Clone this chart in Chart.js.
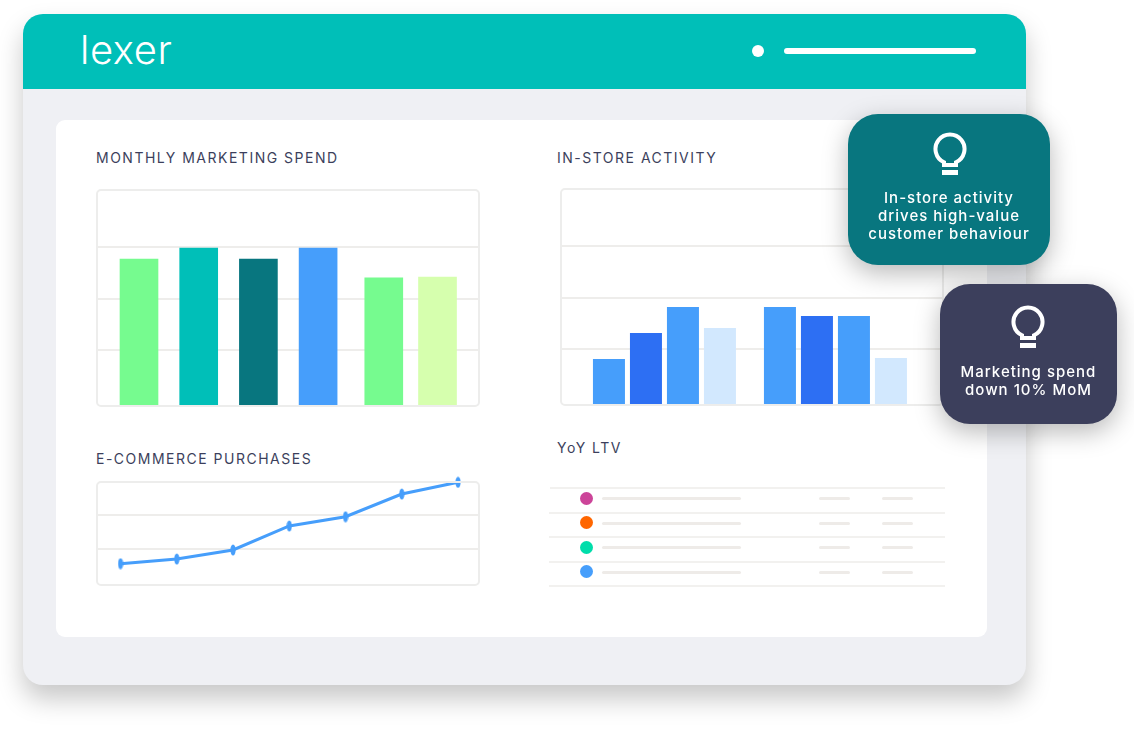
<!DOCTYPE html>
<html>
<head>
<meta charset="utf-8">
<script src="https://cdn.jsdelivr.net/npm/chart.js@4"></script>
<style>
  html, body { margin: 0; padding: 0; background: #fff; }
  body { width: 1134px; height: 730px; position: relative; overflow: hidden; font-family: Roboto, sans-serif; color: #3C3F5C; }
  .abs { position: absolute; }
  #app { left: 23px; top: 14px; width: 1003px; height: 671px; border-radius: 20px; background: #EFF0F4; box-shadow: 0 14px 26px rgba(0,0,0,.22); overflow: hidden; }
  #bar { left: 0; top: 0; width: 1003px; height: 75px; background: #00BFB8; }
  #logo { left: 57px; top: 16px; color: #fff; font: 300 40px/40px Inter, sans-serif; letter-spacing: 0.6px; }
  #panel { left: 56px; top: 120px; width: 931px; height: 517px; background: #fff; border-radius: 9px; }
  .title { font: 400 14px/16px Inter, sans-serif; letter-spacing: 1.5px; white-space: nowrap; }
  .frame { border: 2px solid #EDEDEC; border-radius: 5px; box-sizing: border-box; pointer-events: none; }
  .rule { height: 2px; background: #F2F1EF; }
  .skel { height: 3px; border-radius: 2px; background: #EEEBE8; }
  .dot { width: 13px; height: 13px; border-radius: 50%; }
  .tip { color: #fff; border-radius: 30px; box-shadow: 0 8px 26px rgba(0,0,0,.28); text-align: center; font: 500 15px/18px Inter, sans-serif; letter-spacing: 1px; }
  .tip svg { position: absolute; }
  .tip div { position: absolute; left: 0; right: 0; white-space: nowrap; }
</style>
</head>
<body>
<div id="app" class="abs">
  <div id="bar" class="abs"></div>
  <div id="logo" class="abs">lexer</div>
</div>
<div class="abs" style="left:752px;top:45px;width:12px;height:12px;border-radius:50%;background:#fff"></div>
<div class="abs" style="left:784px;top:48px;width:192px;height:6px;border-radius:3px;background:#fff"></div>
<div id="panel" class="abs"></div>

<div class="abs title" style="left:96px;top:150px">MONTHLY MARKETING SPEND</div>
<canvas id="spendChart" class="abs" style="left:97px;top:190px"></canvas>
<div class="abs frame" style="left:96px;top:189px;width:384px;height:218px"></div>

<div class="abs title" style="left:557px;top:150px">IN-STORE ACTIVITY</div>
<canvas id="storeChart" class="abs" style="left:561px;top:189px"></canvas>
<div class="abs frame" style="left:560px;top:188px;width:384px;height:218px"></div>

<div class="abs title" style="left:96px;top:451px">E-COMMERCE PURCHASES</div>
<canvas id="purchaseChart" class="abs" style="left:97px;top:472px"></canvas>
<div class="abs frame" style="left:96px;top:481px;width:384px;height:105px"></div>

<div class="abs title" style="left:557px;top:440px">YoY LTV</div>
<div id="ltv"></div>

<div class="abs tip" style="left:848px;top:114px;width:202px;height:151px;background:#08767F">
  <svg style="left:85px;top:18px" width="34" height="44" viewBox="0 0 34 44"><path d="M11 33 V30.200 A14.500 14.500 0 1 1 23 30.200 V33 Z" fill="none" stroke="#fff" stroke-width="4"/><rect x="9" y="38" width="16" height="5" fill="#fff"/></svg>
  <div style="top:75px">In-store activity<br>drives high-value<br>customer behaviour</div>
</div>
<div class="abs tip" style="left:940px;top:284px;width:177px;height:140px;background:#3C3F5C">
  <svg style="left:71px;top:21px" width="34" height="44" viewBox="0 0 34 44"><path d="M11 33 V30.200 A14.500 14.500 0 1 1 23 30.200 V33 Z" fill="none" stroke="#fff" stroke-width="4"/><rect x="9" y="38" width="16" height="5" fill="#fff"/></svg>
  <div style="top:79px">Marketing spend<br>down 10% MoM</div>
</div>

<script>
  // bar slots along the monthly axis, the fifth bar sits a bit late in the picture
  const spendSlots = [1, 2, 3, 4, 5.1, 6];
  const spendValues = [68, 73.1, 68, 73.1, 59.3, 59.7];
  const spendColors = ['#76FB8F', '#00BFB8', '#08767F', '#469EFB', '#76FB8F', '#D6FFAE'];
  const spendTicks = [25.9, 49.5, 73.6];

  const storeGroups = [1, 2];
  const storeFirst = [21.3, 45.4];
  const storeSecond = [33.3, 41.2];
  const storeThird = [45.4, 41.2];
  const storeFourth = [35.6, 21.8];
  const storeTicks = [26, 49.5, 73.6];

  const purchaseSlots = [1, 2, 3, 4, 5, 6, 7];
  const purchaseValues = [20.7, 25.2, 34, 57.3, 66.3, 88.3, 99.7];
  const purchaseTicks = [35, 68];

  const ltvColors = ['#CC4499', '#FF6600', '#00DDAA', '#469EFB'];

  const GRID = '#EEEDEB';

  function pairs(xs, ys) {
    return ys.map(function (y, i) { return { x: xs[i], y: y }; });
  }

  function tickSetter(values) {
    return function (axis) {
      axis.ticks = values.map(function (v) { return { value: v }; });
    };
  }

  function baseOptions(xMin, xMax, xTicks, yTicks) {
    return {
      responsive: false,
      animation: false,
      plugins: { legend: { display: false }, tooltip: { enabled: false } },
      layout: { padding: 0, autoPadding: false },
      scales: {
        x: { type: 'linear', display: false, offset: false, min: xMin, max: xMax, afterBuildTicks: tickSetter(xTicks) },
        y: {
          min: 0,
          max: 100,
          afterBuildTicks: tickSetter(yTicks),
          ticks: { display: false },
          border: { display: false },
          grid: { color: GRID, lineWidth: 2, drawTicks: false }
        }
      }
    };
  }

  function sizeCanvas(id, w, h) {
    const c = document.getElementById(id);
    c.width = w;
    c.height = h;
    c.style.width = w + 'px';
    c.style.height = h + 'px';
    return c;
  }

  new Chart(sizeCanvas('spendChart', 382, 216), {
    type: 'bar',
    data: {
      datasets: [{
        data: pairs(spendSlots, spendValues),
        backgroundColor: spendColors,
        barThickness: 38
      }]
    },
    options: baseOptions(0.2965, 6.695, spendSlots, spendTicks)
  });

  const storeSeries = [storeFirst, storeSecond, storeThird, storeFourth];
  const storeColors = ['#469EFB', '#2D6FF3', '#469EFB', '#D2E8FE'];
  new Chart(sizeCanvas('storeChart', 382, 216), {
    type: 'bar',
    data: {
      datasets: storeSeries.map(function (values, i) {
        return {
          data: pairs(storeGroups, values),
          backgroundColor: storeColors[i],
          categoryPercentage: 0.8655,
          barPercentage: 0.865
        };
      })
    },
    options: baseOptions(0.395, 2.629, storeGroups, storeTicks)
  });

  // the markers in the picture are tall narrow ellipses
  const marker = document.createElement('canvas');
  marker.width = 6;
  marker.height = 12;
  const mctx = marker.getContext('2d');
  mctx.fillStyle = '#469EFB';
  mctx.beginPath();
  mctx.ellipse(3, 6, 2.6, 5.6, 0, 0, Math.PI * 2);
  mctx.fill();

  const purchaseOptions = baseOptions(0.582, 7.373, purchaseSlots, purchaseTicks);
  purchaseOptions.layout.padding = { top: 10 };
  new Chart(sizeCanvas('purchaseChart', 382, 113), {
    type: 'line',
    data: {
      datasets: [{
        data: pairs(purchaseSlots, purchaseValues),
        borderColor: '#469EFB',
        borderWidth: 3,
        tension: 0,
        fill: false,
        clip: false,
        pointStyle: marker
      }]
    },
    options: purchaseOptions
  });

  // skeleton rows of the LTV list
  const ltv = document.getElementById('ltv');
  function addBox(cls, left, top, width, color) {
    const d = document.createElement('div');
    d.className = 'abs ' + cls;
    d.style.left = left + 'px';
    d.style.top = top + 'px';
    if (width) d.style.width = width + 'px';
    if (color) d.style.background = color;
    ltv.appendChild(d);
  }
  addBox('rule', 550, 487, 395);
  ltvColors.forEach(function (color, i) {
    const top = 498 + i * 24.6;
    addBox('dot', 580, top - 6.500, 0, color);
    addBox('skel', 602, top - 1, 139);
    addBox('skel', 819, top - 1, 31);
    addBox('skel', 882, top - 1, 31);
    addBox('rule', 549, top + 13.500, 396);
  });
</script>
</body>
</html>
